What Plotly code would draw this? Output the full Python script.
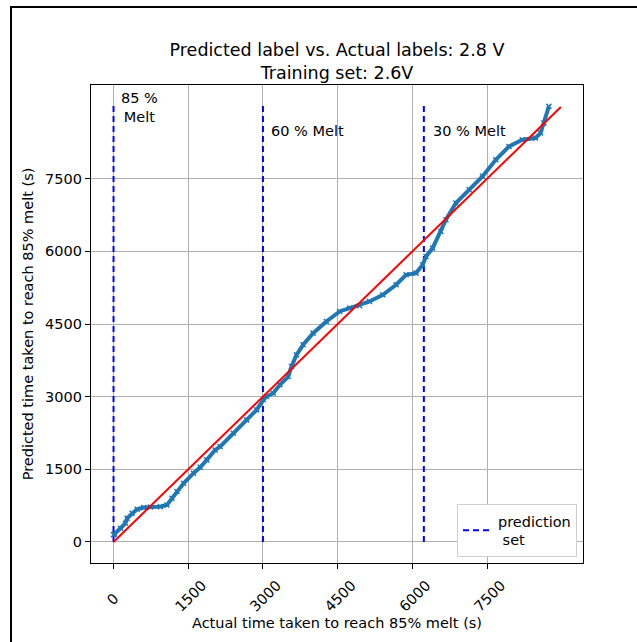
import plotly.graph_objects as go

# ---- data ----
actual_time = [0, 20, 140, 240, 273, 373, 473, 607, 740, 940, 1073, 1173, 1273, 1407, 1607,
               1740, 1873, 2040, 2140, 2407, 2673, 2873, 3007, 3073, 3207, 3340, 3507, 3573,
               3673, 3807, 4007, 4273, 4540, 4740, 4940, 5140, 5407, 5673, 5873, 6073, 6207,
               6273, 6407, 6573, 6673, 6873, 7140, 7407, 7673, 7940, 8207, 8473, 8573, 8640, 8740]
predicted_time = [150, 165, 282, 386, 489, 592, 675, 709, 722, 729, 764, 902, 1040, 1212, 1419,
                  1542, 1694, 1900, 1969, 2245, 2520, 2727, 2934, 3002, 3072, 3244, 3415, 3622,
                  3863, 4070, 4311, 4553, 4759, 4828, 4876, 4965, 5103, 5310, 5516, 5551, 5723,
                  5895, 6067, 6411, 6653, 6998, 7272, 7548, 7892, 8167, 8305, 8340, 8443, 8650, 8994]

ideal_x = [0, 8980]
ideal_y = [0, 8980]

melt_positions = [0, 3000, 6230]
melt_top = 9000
melt_labels = ["85 %<br>Melt", "60 % Melt", "30 % Melt"]
melt_label_x = [100, 3120, 6380]
melt_label_y = [8980, 8490, 8490]

tick_vals = [0, 1500, 3000, 4500, 6000, 7500]
tick_text = ["0", "1500", "3000", "4500", "6000", "7500"]

FONT = "DejaVu Sans"
W, H = 637, 642
L, R, T, B = 91, 583, 85, 563

fig = go.Figure()

# vertical dashed lines
vx, vy = [], []
for p in melt_positions:
    vx += [p, p, None]
    vy += [0, melt_top, None]
fig.add_trace(go.Scatter(x=vx, y=vy, mode="lines",
                         line=dict(color="blue", width=2, dash="6px,4px"),
                         name="prediction<br>\u00a0set", showlegend=True))

# predicted curve
fig.add_trace(go.Scatter(x=actual_time, y=predicted_time, mode="lines+markers",
                         line=dict(color="#1f77b4", width=4),
                         marker=dict(color="#1f77b4", size=5, symbol="x-thin",
                                     line=dict(color="#1f77b4", width=1.5)),
                         showlegend=False))

# ideal line
fig.add_trace(go.Scatter(x=ideal_x, y=ideal_y, mode="lines",
                         line=dict(color="red", width=2), showlegend=False))

for t, x, y in zip(melt_labels, melt_label_x, melt_label_y):
    fig.add_annotation(x=x, y=y, text=t, showarrow=False, xanchor="left", yanchor="middle",
                       align="center", font=dict(family=FONT, size=14.5, color="black"))

def px_to_paper_x(px):
    return (px - L) / (R - L)

def px_to_paper_y(py):
    return (B - py) / (B - T)

# outer figure frame (partially cropped)
fig.add_shape(type="rect", xref="paper", yref="paper",
              x0=px_to_paper_x(11), x1=px_to_paper_x(700),
              y0=px_to_paper_y(700), y1=px_to_paper_y(7),
              line=dict(color="black", width=2), layer="above")

# x tick labels: pad the single-digit label so all labels are centred on their tick
x_tick_text = [t + "\u00a0" * (4 * (4 - len(t)) // 3) for t in tick_text]

axis_common = dict(
    showgrid=True, gridcolor="#b0b0b0", gridwidth=1,
    showline=True, linecolor="black", linewidth=1.2, mirror=True,
    ticks="outside", ticklen=5, tickwidth=1, tickcolor="black",
    tickvals=tick_vals, zeroline=False,
    tickfont=dict(family=FONT, size=14.5, color="black"),
)

fig.update_layout(
    width=W, height=H,
    margin=dict(l=L, r=W - R, t=T, b=H - B, autoexpand=False),
    paper_bgcolor="white", plot_bgcolor="white",
    title=dict(text="Predicted label vs. Actual labels: 2.8 V<br>Training set: 2.6V",
               x=(L + R) / 2 / W, xanchor="center", y=1 - 56 / H, yanchor="middle",
               yref="container", font=dict(family=FONT, size=17.5, color="black")),
    xaxis=dict(range=[-452, 9425], tickangle=-45, ticktext=x_tick_text,
               ticklabelshift=14, ticklabelstandoff=2,
               title=dict(text="Actual time taken to reach 85% melt (s)",
                          font=dict(family=FONT, size=14.5, color="black"), standoff=4),
               **axis_common),
    yaxis=dict(range=[-435, 9435], ticktext=tick_text,
               title=dict(text="Predicted time taken to reach 85% melt (s)",
                          font=dict(family=FONT, size=14.5, color="black"), standoff=8),
               **axis_common),
    legend=dict(x=px_to_paper_x(577), xanchor="right", y=px_to_paper_y(557), yanchor="bottom",
                bgcolor="white", bordercolor="#d0d0d0", borderwidth=1,
                font=dict(family=FONT, size=14.5, color="black")),
)

fig.write_html("out.html")
